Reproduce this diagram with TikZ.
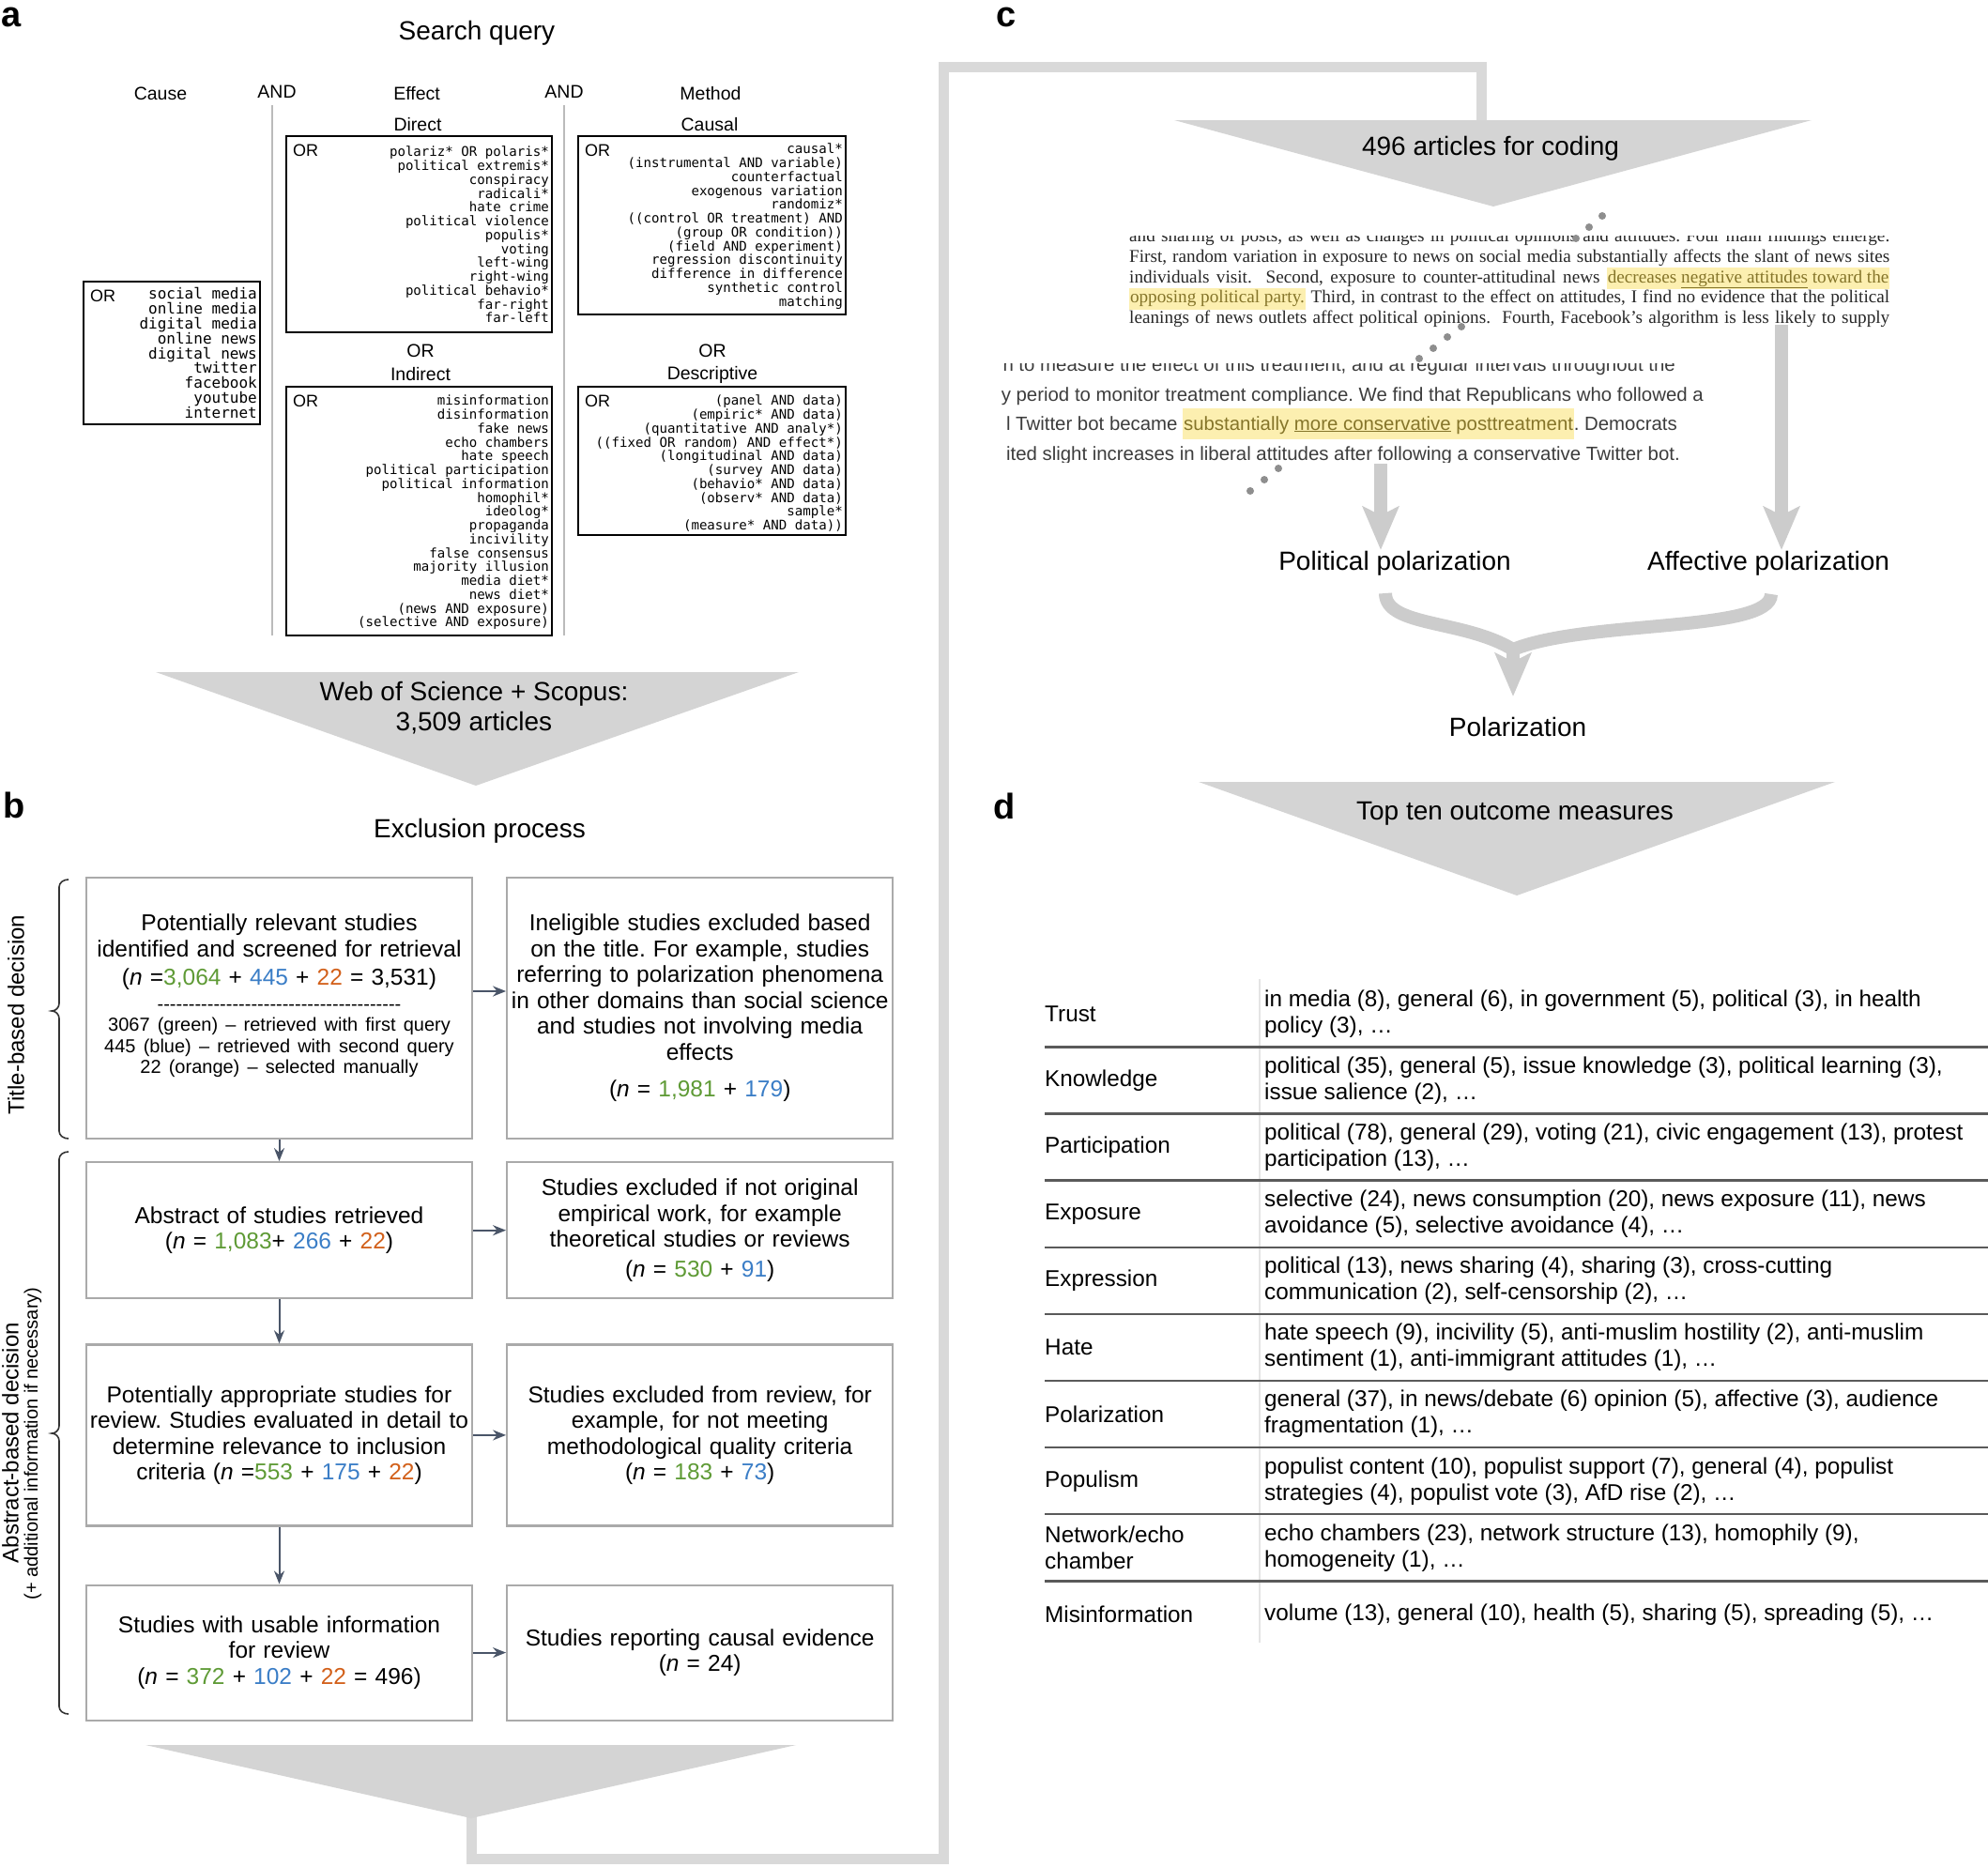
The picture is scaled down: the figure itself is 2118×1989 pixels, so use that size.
\documentclass[tikz,border=0pt]{standalone}
\usepackage{fontspec}
\setmainfont{Liberation Sans}
\setmonofont{DejaVu Sans Mono}
\newfontfamily\exserif{Liberation Serif}
\usetikzlibrary{arrows.meta,positioning,calc}
\definecolor{tri}{HTML}{D4D4D4}
\definecolor{bandg}{HTML}{D9D9D9}
\definecolor{arrg}{HTML}{CCCCCC}
\definecolor{boxg}{HTML}{AAAAAA}
\definecolor{sepg}{HTML}{BBBBBB}
\definecolor{flowc}{HTML}{4A5568}
\definecolor{brcol}{HTML}{333333}
\definecolor{ngr}{HTML}{5E9A35}
\definecolor{nbl}{HTML}{3A7DC6}
\definecolor{nor}{HTML}{D2601A}
\definecolor{hly}{HTML}{FCEFB0}
\definecolor{hlt}{HTML}{85752A}
\definecolor{rulec}{HTML}{5A5A5A}
\definecolor{divc}{HTML}{E4E4E4}
\definecolor{dotg}{HTML}{8E8E8E}
\definecolor{exgray}{HTML}{3C3C3C}
\frenchspacing
\newcommand{\nv}{\textit{n}}
\newcommand{\cgreen}[1]{\textcolor{ngr}{#1}}
\newcommand{\cblue}[1]{\textcolor{nbl}{#1}}
\newcommand{\corange}[1]{\textcolor{nor}{#1}}
\newcommand{\hlmark}[1]{{\setlength{\fboxsep}{0.8pt}\colorbox{hly}{\strut\textcolor{hlt}{#1}}}}
\newcommand{\fTitle}{\fontsize{28}{32}\selectfont}
\newcommand{\fBox}{\fontsize{24.5}{27.5}\selectfont}
\newcommand{\fSmall}{\fontsize{20}{22.5}\selectfont}
\newcommand{\fHead}{\fontsize{19.5}{22}\selectfont}
\newcommand{\fQuery}{\ttfamily\fontsize{14.1}{14.75}\selectfont}
\newcommand{\fCause}{\ttfamily\fontsize{16}{15.9}\selectfont}
\newcommand{\fPanel}{\bfseries\fontsize{38}{40}\selectfont}
\newcommand{\fTab}{\fontsize{24.3}{28}\selectfont}
\newcommand{\fExA}{\exserif\fontsize{19.2}{21.75}\selectfont}
\newcommand{\fExB}{\fontsize{20.4}{31.6}\selectfont}
\newcommand{\fSide}{\fontsize{24}{26}\selectfont}
\newcommand{\fSideSmall}{\fontsize{20}{22}\selectfont}
\tikzset{
  panellab/.style={font=\fPanel, anchor=base west, inner sep=0},
  colhead/.style={font=\fHead, inner sep=1pt},
  qbox/.style={draw=black, line width=1.8pt, anchor=north west, inner sep=0, outer sep=0},
  qtxt/.style={font=\fQuery, align=right, anchor=north east, inner sep=0},
  orlab/.style={font=\fontsize{18}{18}\selectfont, anchor=north west, inner sep=0},
  colsep/.style={draw=sepg, line width=2pt},
  funnel/.style={fill=tri},
  funtext/.style={font=\fTitle, align=center, inner sep=0},
  stagebox/.style={draw=boxg, line width=2.2pt, minimum width=411pt, text width=411pt, align=center, inner xsep=0, inner ysep=0, font=\fBox},
  flow/.style={draw=flowc, line width=2pt, -{Stealth[length=14pt,width=11pt]}},
  brc/.style={draw=brcol, line width=1.6pt},
  band/.style={draw=bandg, line width=11pt},
  fat/.style={draw=arrg, line width=14pt, -{Stealth[length=46pt,width=38pt,inset=9pt]}},
  fatline/.style={draw=arrg, line width=14pt},
  exa/.style={font=\fExA, anchor=base west, inner sep=0, text=black!85},
  exb/.style={font=\fExB, anchor=base east, inner sep=0, text=exgray},
  outlab/.style={font=\fTitle, inner sep=3pt},
  tablab/.style={font=\fTab, anchor=west, align=left, inner sep=0},
  rowrule/.style={draw=rulec, line width=2.5pt},
}
\begin{document}
\begin{tikzpicture}[x=1pt,y=-1pt]
  \useasboundingbox (0,0) rectangle (2118,1989);
  % panel letters
  \node[panellab] (pa) at (1,28) {a};
  \node[panellab] (pb) at (3,871) {b};
  \node[panellab] (pc) at (1061,28) {c};
  \node[panellab] (pd) at (1058,872) {d};

  % ---------- a: search query
  \node[font=\fTitle] (sq) at (508,35) {Search query};
  \node[colhead] (cause) at (171,100) {Cause};
  \node[colhead] (and1) at (295,98) {AND};
  \node[colhead] (effect) at (444,100) {Effect};
  \node[colhead] (and2) at (601,98) {AND};
  \node[colhead] (method) at (757,100) {Method};
  \node[colhead] (direct) at (445,133) {Direct};
  \node[colhead] (causal) at (756,133) {Causal};
  \node[colhead] (or1) at (448,374) {OR};
  \node[colhead] (indirect) at (448,399) {Indirect};
  \node[colhead] (or2) at (759,374) {OR};
  \node[colhead] (descr) at (759,399) {Descriptive};
  \draw[colsep] (290,112) -- (290,677);
  \draw[colsep] (601,112) -- (601,677);

  \node[qbox, minimum width=188pt, minimum height=152pt] (qcause) at (89,300) {};
  \node[qbox, minimum width=283pt, minimum height=209pt] (qdirect) at (305,145) {};
  \node[qbox, minimum width=285pt, minimum height=190pt] (qcausal) at (616,145) {};
  \node[qbox, minimum width=283pt, minimum height=265pt] (qindirect) at (305,412) {};
  \node[qbox, minimum width=285pt, minimum height=158pt] (qdescr) at (616,412) {};
  \foreach \b in {qcause,qdirect,qcausal,qindirect,qdescr}
    \node[orlab] at ([xshift=7pt,yshift=-9pt]\b.north west) {OR};

  \node[qtxt, font=\fCause] at ([xshift=-3pt,yshift=-6pt]qcause.north east)
    {social media\\online media\\digital media\\online news\\digital news\\twitter\\facebook\\youtube\\internet};
  \node[qtxt] at ([xshift=-3pt,yshift=-11pt]qdirect.north east)
    {polariz* OR polaris*\\political extremis*\\conspiracy\\radicali*\\hate crime\\political violence\\populis*\\voting\\left-wing\\right-wing\\political behavio*\\far-right\\far-left};
  \node[qtxt] at ([xshift=-3pt,yshift=-8pt]qcausal.north east)
    {causal*\\(instrumental AND variable)\\counterfactual\\exogenous variation\\randomiz*\\((control OR treatment) AND\\(group OR condition))\\(field AND experiment)\\regression discontinuity\\difference in difference\\synthetic control\\matching};
  \node[qtxt] at ([xshift=-3pt,yshift=-9pt]qindirect.north east)
    {misinformation\\disinformation\\fake news\\echo chambers\\hate speech\\political participation\\political information\\homophil*\\ideolog*\\propaganda\\incivility\\false consensus\\majority illusion\\media diet*\\news diet*\\(news AND exposure)\\(selective AND exposure)};
  \node[qtxt] at ([xshift=-3pt,yshift=-9pt]qdescr.north east)
    {(panel AND data)\\(empiric* AND data)\\(quantitative AND analy*)\\((fixed OR random) AND effect*)\\(longitudinal AND data)\\(survey AND data)\\(behavio* AND data)\\(observ* AND data)\\sample*\\(measure* AND data))};

  % funnel a
  \fill[funnel] (166,716) -- (851,716) -- (507,837) -- cycle;
  \node[funtext] (wos) at (505,754) {Web of Science + Scopus:\\3,509 articles};

  % ---------- b: exclusion process
  \node[font=\fTitle] (excl) at (511,885) {Exclusion process};
  \node[stagebox, minimum height=278pt] (b1) at (297.5,1074)
    {{\fBox Potentially relevant studies\\identified and screened for retrieval\\[3pt](\nv\ =\cgreen{3,064} + \cblue{445} + \corange{22} = 3,531)\par}\vspace{4pt}%
     {\fSmall\foreach\k in {1,...,39}{-}\\3067 (green) – retrieved with first query\\445 (blue) – retrieved with second query\\22 (orange) – selected manually\par}%
     \nointerlineskip\noindent\rule{0pt}{26pt}};
  \node[stagebox, minimum height=278pt, right=35pt of b1] (b2)
    {Ineligible studies excluded based\\on the title. For example, studies\\referring to polarization phenomena\\in other domains than social science\\and studies not involving media\\effects\\[12pt](\nv\ = \cgreen{1,981} + \cblue{179})};
  \node[stagebox, minimum height=145pt, below=23pt of b1] (b3)
    {Abstract of studies retrieved\\(\nv\ = \cgreen{1,083}+ \cblue{266} + \corange{22})};
  \node[stagebox, minimum height=145pt, right=35pt of b3] (b4)
    {Studies excluded if not original\\empirical work, for example\\theoretical studies or reviews\\[4pt](\nv\ = \cgreen{530} + \cblue{91})};
  \node[stagebox, minimum height=193pt, below=47pt of b3] (b5)
    {Potentially appropriate studies for\\review. Studies evaluated in detail to\\determine relevance to inclusion\\criteria (\nv\ =\cgreen{553} + \cblue{175} + \corange{22})};
  \node[stagebox, minimum height=193pt, right=35pt of b5] (b6)
    {Studies excluded from review, for\\example, for not meeting\\methodological quality criteria\\(\nv\ = \cgreen{183} + \cblue{73})};
  \node[stagebox, minimum height=144pt, below=61pt of b5] (b7)
    {Studies with usable information\\for review\\(\nv\ = \cgreen{372} + \cblue{102} + \corange{22} = 496)};
  \node[stagebox, minimum height=144pt, right=35pt of b7] (b8)
    {Studies reporting causal evidence\\(\nv\ = 24)};
  \draw[flow] (b1) -- (b3);
  \draw[flow] (b3) -- (b5);
  \draw[flow] (b5) -- (b7);
  \draw[flow] ([yshift=18pt]b1.east) -- ([yshift=18pt]b2.west);
  \draw[flow] (b3) -- (b4);
  \draw[flow] (b5) -- (b6);
  \draw[flow] (b7) -- (b8);

  % braces and side labels
  \draw[brc] (73,937) to[out=180,in=90] (63,945) -- (63,1069) to[out=-90,in=0] (55,1077)
    to[out=0,in=90] (63,1085) -- (63,1205) to[out=-90,in=180] (73,1213);
  \draw[brc] (73,1227) to[out=180,in=90] (63,1235) -- (63,1519) to[out=-90,in=0] (55,1527)
    to[out=0,in=90] (63,1535) -- (63,1818) to[out=-90,in=180] (73,1826);
  \node[font=\fSide, rotate=90, inner sep=0] (tdec) at (17,1081) {Title-based decision};
  \node[font=\fSide, rotate=90, inner sep=0] (adec) at (11,1537) {Abstract-based decision};
  \node[font=\fSideSmall, rotate=90, inner sep=0] (adec2) at (35,1538) {(+ additional information if necessary)};

  % funnel b and band to c
  \coordinate (bapex) at (502,1930);
  \draw[band] (bapex) -- (502,1980) -- (1005,1980) -- (1005,71) -- (1578,71) -- (1578,130);
  \fill[funnel] (155,1859) -- (848,1859) -- (502,1937) -- cycle;

  % ---------- c: coding
  \fill[funnel] (1251,128) -- (1930,128) -- (1591,220) -- cycle;
  \node[funtext] (coding) at (1588,158) {496 articles for coding};

  \begin{scope}
    \clip (1203,251) rectangle (2013,350);
    \node[exa] (exa1) at (1203,257.5) {\makebox[810pt][s]{and sharing of posts, as well as changes in political opinions and attitudes. Four main findings emerge.}};
    \node[exa] (exa2) at (1203,279.25) {\makebox[810pt][s]{First, random variation in exposure to news on social media substantially affects the slant of news sites}};
    \node[exa] (exa3) at (1203,301) {\makebox[810pt][s]{individuals visit.\ \ Second, exposure to counter-attitudinal news \hlmark{decreases \underline{negative attitudes} toward the}}};
    \node[exa] (exa4) at (1203,322.75) {\makebox[810pt][s]{\hlmark{opposing political party.} Third, in contrast to the effect on attitudes, I find no evidence that the political}};
    \node[exa] (exa5) at (1203,344.5) {\makebox[810pt][s]{leanings of news outlets affect political opinions.\ \ Fourth, Facebook’s algorithm is less likely to supply}};
  \end{scope}

  \begin{scope}
    \clip (1067,387) rectangle (1840,492);
    \node[exb] (exb1) at (1785,395) {n to measure the effect of this treatment, and at regular intervals throughout the};
    \node[exb] (exb2) at (1815,427) {y period to monitor treatment compliance. We find that Republicans who followed a};
    \node[exb] (exb3) at (1787,458) {l Twitter bot became \hlmark{substantially \underline{more conservative} posttreatment}. Democrats};
    \node[exb] (exb4) at (1790,490) {ited slight increases in liberal attitudes after following a conservative Twitter bot.};
  \end{scope}

  % zoom dots
  \foreach \p in {(1707,230),(1693,242),(1679,254),(1557,348),(1542,359),(1527,371),(1512,382),(1362,499),(1347,511),(1332,523)}
    \fill[dotg] \p circle (4pt);

  \node[outlab] (polpol) at (1486,600) {Political polarization};
  \node[outlab] (affpol) at (1884,600) {Affective polarization};
  \node[outlab] (polar) at (1617,774) {Polarization};
  \coordinate (lstart) at (1471,494);
  \coordinate (rstart) at (1898,346);
  \draw[fat] (lstart) -- (lstart |- 0,586);
  \draw[fat] (rstart) -- (rstart |- 0,586);
  \coordinate (lb) at (1476,632);
  \coordinate (rb) at (1887,633);
  \coordinate (merge) at (1612,692);
  \coordinate (mtip) at (1612,742);
  \draw[fatline] (lb) .. controls (1476,668) and (1560,660) .. (merge);
  \draw[fatline] (rb) .. controls (1887,674) and (1690,660) .. (merge);
  \draw[fat] (merge) -- (mtip);

  % ---------- d: outcome measures
  \fill[funnel] (1277,833) -- (1955,833) -- (1616,954) -- cycle;
  \node[funtext] (topten) at (1614,867) {Top ten outcome measures};
  \draw[draw=divc, line width=1.2pt] (1342,1043) -- (1342,1750);
  \foreach \i in {0,...,8}
    \draw[rowrule] (1113,1115.5+71.1*\i) -- (2118,1115.5+71.1*\i);
  \foreach \lab/\txt [count=\i from 0] in {
    Trust/{in media (8), general (6), in government (5), political (3), in health\\policy (3), \ldots},
    Knowledge/{political (35), general (5), issue knowledge (3), political learning (3),\\issue salience (2), \ldots},
    Participation/{political (78), general (29), voting (21), civic engagement (13), protest\\participation (13), \ldots},
    Exposure/{selective (24), news consumption (20), news exposure (11), news\\avoidance (5), selective avoidance (4), \ldots},
    Expression/{political (13), news sharing (4), sharing (3), cross-cutting\\communication (2), self-censorship (2), \ldots},
    Hate/{hate speech (9), incivility (5), anti-muslim hostility (2), anti-muslim\\sentiment (1), anti-immigrant attitudes (1), \ldots},
    Polarization/{general (37), in news/debate (6) opinion (5), affective (3), audience\\fragmentation (1), \ldots},
    Populism/{populist content (10), populist support (7), general (4), populist\\strategies (4), populist vote (3), AfD rise (2), \ldots},
    {Network/echo\\chamber}/{echo chambers (23), network structure (13), homophily (9),\\homogeneity (1), \ldots},
    Misinformation/{volume (13), general (10), health (5), sharing (5), spreading (5), \ldots}} {
    \node[tablab] (row\i) at (1113,1080+71.1*\i) {\lab};
    \node[tablab] (meas\i) at (1347,1080+71.1*\i) {\txt};
  }
\end{tikzpicture}
\end{document}
